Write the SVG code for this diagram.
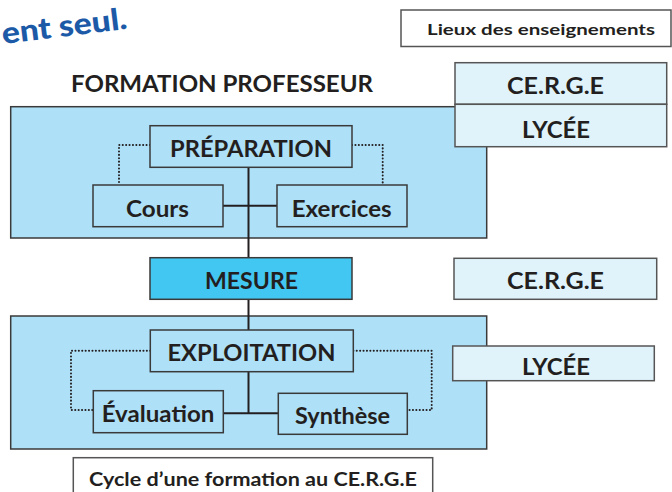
<svg xmlns="http://www.w3.org/2000/svg" width="672" height="492" viewBox="0 0 672 492">
<style>
text{font-family:Lato,"Open Sans","Liberation Sans",sans-serif;font-weight:bold;fill:#231f20;text-anchor:middle}
.panel{fill:#aee0f8;stroke:#3a3a3a;stroke-width:1.5}
.box{fill:#aee0f8;stroke:#3a3a3a;stroke-width:1.5}
.place{fill:#e0f3fb;stroke:#555;stroke-width:1.5}
.hdr{fill:#fff;stroke:#555;stroke-width:1.5}
.mes{fill:#42c6f2;stroke:#3a3a3a;stroke-width:1.5}
.ln{stroke:#231f20;stroke-width:2;fill:none}
.dot{stroke:#231f20;stroke-width:2;fill:none;stroke-dasharray:0.1 3.3;stroke-linecap:round}
.big{font-size:23px}
.mid{font-size:22px}
</style>
<rect width="672" height="492" fill="#fff"/>
<text x="3" y="44" transform="rotate(-7 3 44)" style="font-size:30px;font-weight:900;fill:#1c5aa8;text-anchor:start" textLength="126" lengthAdjust="spacingAndGlyphs">ent seul.</text>

<g id="header">
<rect class="hdr" x="401" y="10" width="270" height="36.5"/>
<text x="541" y="35" style="font-size:16px" textLength="228" lengthAdjust="spacingAndGlyphs">Lieux des enseignements</text>
</g>
<text id="title" x="222" y="91.5" class="mid" textLength="302" lengthAdjust="spacingAndGlyphs">FORMATION PROFESSEUR</text>

<g id="panel-top"><rect class="panel" x="10.7" y="106.7" width="476" height="131.3"/></g>
<g id="panel-bottom"><rect class="panel" x="10.7" y="316" width="476" height="133"/></g>

<g id="connectors">
<line class="ln" x1="248.5" y1="167.3" x2="248.5" y2="257.7"/>
<line class="ln" x1="223" y1="205.7" x2="277" y2="205.7"/>
<line class="ln" x1="248.5" y1="299.3" x2="248.5" y2="330"/>
<line class="ln" x1="248.5" y1="371.7" x2="248.5" y2="413.3"/>
<line class="ln" x1="223.3" y1="413.3" x2="278.3" y2="413.3"/>
<polyline class="dot" points="150,145 119,145 119,185"/>
<polyline class="dot" points="352,145 382.7,145 382.7,185"/>
<polyline class="dot" points="150.3,350.7 71,350.7 71,410 93.3,410"/>
<polyline class="dot" points="353.3,350.7 431.7,350.7 431.7,410 407.3,410"/>
</g>

<g id="preparation">
<rect class="box" x="150" y="125.7" width="202" height="41.6"/>
<text x="251" y="157.3" class="big" textLength="162" lengthAdjust="spacingAndGlyphs">PRÉPARATION</text>
</g>
<g id="cours">
<rect class="box" x="93" y="185" width="130" height="41.7"/>
<text x="157.5" y="216.7" class="big" textLength="63" lengthAdjust="spacingAndGlyphs">Cours</text>
</g>
<g id="exercices">
<rect class="box" x="277" y="185" width="130" height="41.7"/>
<text x="341.7" y="216.7" class="big" textLength="100" lengthAdjust="spacingAndGlyphs">Exercices</text>
</g>
<g id="mesure">
<rect class="mes" x="150" y="257.7" width="202" height="41.6"/>
<text x="251.5" y="289" class="mid" textLength="93" lengthAdjust="spacingAndGlyphs">MESURE</text>
</g>
<g id="exploitation">
<rect class="box" x="150.3" y="330" width="203" height="41.7"/>
<text x="251.5" y="361" class="big" textLength="168" lengthAdjust="spacingAndGlyphs">EXPLOITATION</text>
</g>
<g id="evaluation">
<rect class="box" x="93.3" y="390.7" width="130" height="42"/>
<text x="158" y="421.7" class="big" textLength="112.7" lengthAdjust="spacingAndGlyphs">Évaluation</text>
</g>
<g id="synthese">
<rect class="box" x="278.3" y="393.3" width="129" height="41"/>
<text x="342.5" y="423.5" class="big" textLength="95" lengthAdjust="spacingAndGlyphs">Synthèse</text>
</g>

<g id="cerge-top">
<rect class="place" x="455" y="62.7" width="211.7" height="41.6"/>
<text x="555.5" y="94.3" class="mid" textLength="97" lengthAdjust="spacingAndGlyphs">CE.R.G.E</text>
</g>
<g id="lycee-top">
<rect class="place" x="455" y="104.3" width="211.7" height="42.4"/>
<text x="556" y="137.7" class="mid" textLength="68" lengthAdjust="spacingAndGlyphs">LYCÉE</text>
</g>
<g id="cerge-mid">
<rect class="place" x="454" y="258.3" width="202.7" height="41"/>
<text x="555.5" y="289" class="mid" textLength="97" lengthAdjust="spacingAndGlyphs">CE.R.G.E</text>
</g>
<g id="lycee-bottom">
<rect class="place" x="452.7" y="346" width="201.6" height="34.7"/>
<text x="556" y="375" class="mid" textLength="68" lengthAdjust="spacingAndGlyphs">LYCÉE</text>
</g>

<g id="caption">
<rect class="hdr" x="73.3" y="457.7" width="359.4" height="40"/>
<text x="253" y="485.5" style="font-size:18px" textLength="328" lengthAdjust="spacingAndGlyphs">Cycle d’une formation au CE.R.G.E</text>
</g>
</svg>
